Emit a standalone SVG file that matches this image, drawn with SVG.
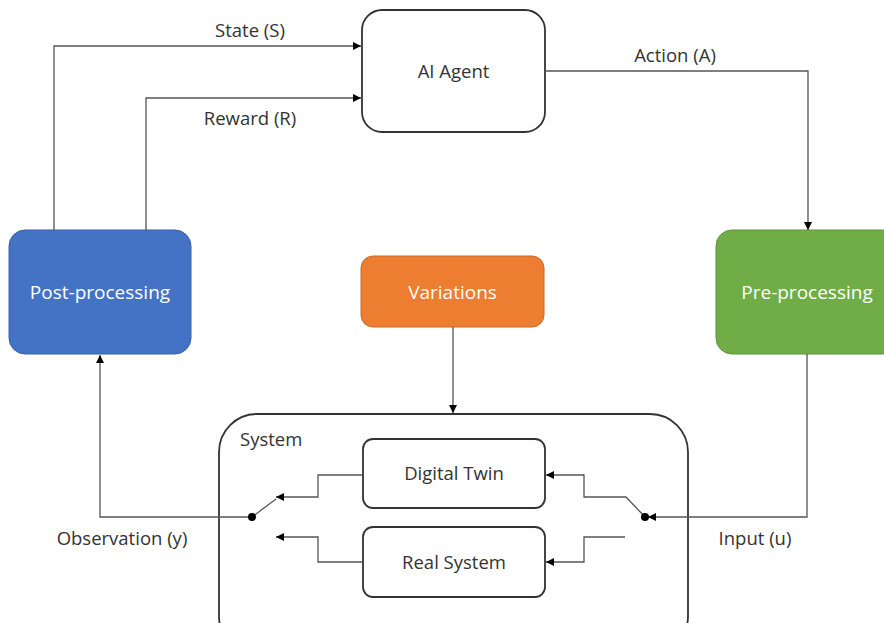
<svg xmlns="http://www.w3.org/2000/svg" width="884" height="623" viewBox="0 0 884 623">
<defs>
<marker id="ah" viewBox="0 0 10 10" refX="10" refY="5" markerWidth="8" markerHeight="8" markerUnits="userSpaceOnUse" orient="auto">
<path d="M0,0 L10,5 L0,10 Z" fill="#000"/>
</marker>
</defs>
<style>
text{font-family:"Open Sans","Liberation Sans",sans-serif;font-size:18.5px;fill:#333}
.w{fill:#fff;font-size:19px}
.box{fill:#fff;stroke:#333;stroke-width:1.8}
.ln{fill:none;stroke:#555;stroke-width:1.3}
.arr{fill:none;stroke:#555;stroke-width:1.3;marker-end:url(#ah)}
</style>
<g id="ai-agent"><rect class="box" x="362" y="10" width="183" height="122" rx="20"/><text x="453.5" y="78" text-anchor="middle">AI Agent</text></g>
<g id="post-processing"><rect x="9" y="230" width="182" height="124" rx="16" fill="#4472C4" stroke="#3a62a8" stroke-width="1"/><text class="w" x="100" y="299" text-anchor="middle">Post-processing</text></g>
<g id="variations"><rect x="361" y="256" width="183" height="71" rx="12" fill="#ED7D31" stroke="#c9692a" stroke-width="1"/><text class="w" x="452.5" y="299" text-anchor="middle">Variations</text></g>
<g id="pre-processing"><rect x="716" y="230" width="182" height="124" rx="16" fill="#70AD47" stroke="#5f933c" stroke-width="1"/><text class="w" x="807" y="299" text-anchor="middle">Pre-processing</text></g>
<g id="system"><rect class="box" x="219" y="414" width="469" height="240" rx="38"/><text x="240" y="446">System</text></g>
<g id="digital-twin"><rect class="box" x="363" y="439" width="182" height="69" rx="10"/><text x="454" y="480" text-anchor="middle">Digital Twin</text></g>
<g id="real-system"><rect class="box" x="363" y="527" width="182" height="70" rx="10"/><text x="454" y="569" text-anchor="middle">Real System</text></g>
<g id="connectors">
<path class="arr" d="M54,230 V46 H361"/>
<path class="arr" d="M146,230 V98 H361"/>
<path class="arr" d="M545,71 H808 V230"/>
<path class="arr" d="M453,327 V413"/>
<path class="arr" d="M252,517 H100 V355"/>
<path class="arr" d="M807,354 V517 H648"/>
<path class="ln" d="M252,517 L276,499"/>
<path class="arr" d="M362,475 H318 V497 H276"/>
<path class="arr" d="M362,562 H318 V537 H276"/>
<path class="ln" d="M645,517 L626,497 H584 V475 H583"/>
<path class="arr" d="M584,475 H546"/>
<path class="arr" d="M625,537 H584 V562 H546"/>
<circle cx="252" cy="517" r="4" fill="#000"/>
<circle cx="645" cy="517" r="4" fill="#000"/>
</g>
<g id="labels">
<text x="250" y="37" text-anchor="middle">State (S)</text>
<text x="250" y="125" text-anchor="middle">Reward (R)</text>
<text x="675" y="62" text-anchor="middle">Action (A)</text>
<text x="122" y="545" text-anchor="middle">Observation (y)</text>
<text x="755" y="545" text-anchor="middle">Input (u)</text>
</g>
</svg>
